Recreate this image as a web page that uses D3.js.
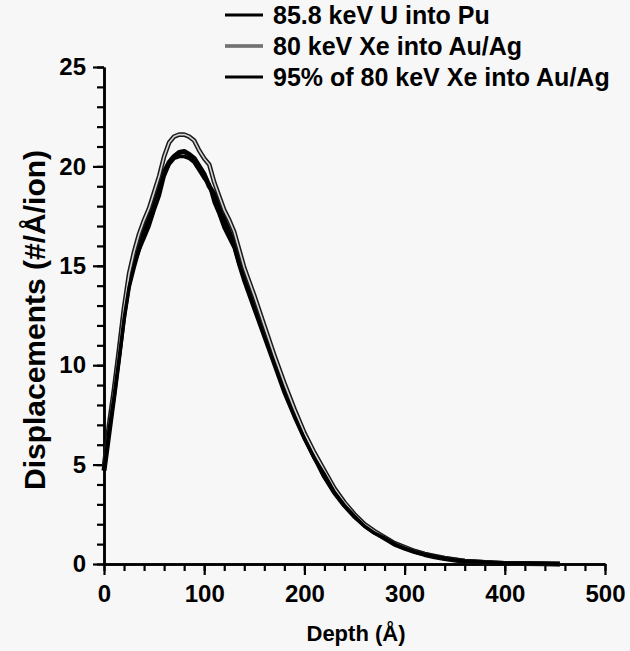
<!DOCTYPE html>
<html>
<head>
<meta charset="utf-8">
<script src="https://cdn.jsdelivr.net/npm/d3@7"></script>
<style>
  html, body { margin: 0; padding: 0; background: #f7f7f7; }
  svg { display: block; font-family: "Liberation Sans", Arial, sans-serif; font-weight: bold; }
</style>
</head>
<body>
<svg id="chart" width="630" height="651"></svg>
<script>
// depth (Å) sample points
const depth = [0, 5, 10, 15, 20, 25, 30, 35, 40, 45, 50, 55, 60, 65, 70, 75, 80, 85, 90, 95,
  100, 105, 110, 115, 120, 125, 130, 135, 140, 145, 150, 160, 170, 180, 190, 200, 210, 220,
  230, 240, 250, 260, 270, 280, 290, 300, 310, 320, 330, 340, 350, 360, 380, 400, 420, 440, 455]

// 85.8 keV U into Pu
const uPu = [4.7, 6.6, 8.5, 10.5, 12.6, 14.2, 15.2, 15.9, 16.8, 17.6, 18.4, 19.1, 19.7, 20.2, 20.5, 20.7, 20.75, 20.6, 20.4, 20.0,
  19.6, 19.0, 18.6, 18.1, 17.3, 16.7, 16.1, 15.2, 14.5, 13.9, 13.3, 11.8, 10.3, 8.9, 7.6, 6.4, 5.4, 4.4,
  3.6, 2.95, 2.4, 1.95, 1.6, 1.3, 1.0, 0.8, 0.62, 0.48, 0.36, 0.27, 0.2, 0.14, 0.07, 0.03, 0.02, 0.01, 0]

// 80 keV Xe into Au/Ag
const xeAuAg = [4.9, 7.0, 8.8, 10.8, 12.9, 14.6, 15.7, 16.6, 17.3, 17.9, 18.7, 19.5, 20.5, 21.2, 21.5, 21.6, 21.6, 21.5, 21.3, 20.8,
  20.4, 20.1, 19.2, 18.5, 17.8, 17.3, 16.7, 15.8, 14.9, 14.2, 13.5, 12.0, 10.5, 9.1, 7.8, 6.6, 5.6, 4.7,
  3.8, 3.1, 2.5, 2.0, 1.65, 1.35, 1.05, 0.85, 0.65, 0.5, 0.4, 0.3, 0.22, 0.15, 0.08, 0.04, 0.02, 0.01, 0]

// 95% of 80 keV Xe into Au/Ag
const xe95 = [4.7, 6.7, 8.4, 10.3, 12.3, 13.9, 14.9, 15.8, 16.4, 17.0, 17.8, 18.5, 19.5, 20.1, 20.4, 20.5, 20.5, 20.4, 20.2, 19.8,
  19.4, 19.1, 18.2, 17.6, 16.9, 16.4, 15.9, 15.0, 14.2, 13.5, 12.8, 11.4, 10.0, 8.6, 7.4, 6.3, 5.3, 4.5,
  3.6, 2.95, 2.4, 1.9, 1.55, 1.3, 1.0, 0.8, 0.62, 0.48, 0.38, 0.28, 0.2, 0.14, 0.08, 0.04, 0.02, 0.01, 0]

const seriesNames = ['85.8 keV U into Pu', '80 keV Xe into Au/Ag', '95% of 80 keV Xe into Au/Ag']
const xTicks = [0, 100, 200, 300, 400, 500]
const yTicks = [0, 5, 10, 15, 20, 25]

const svg = d3.select('#chart')
const x = d3.scaleLinear().domain([0, 500]).range([104, 605])
const y = d3.scaleLinear().domain([0, 25]).range([564, 67])

// styles per series: Xe curve is drawn hollow (dark outline, light core)
const styles = [
  [{stroke: '#000', width: 5}],
  [{stroke: '#1a1a1a', width: 4.6}, {stroke: '#d4d4d4', width: 1.6}],
  [{stroke: '#000', width: 3.6}]
]
const series = [uPu, xeAuAg, xe95]

const line = d3.line()
  .x((d, i) => x(depth[i]))
  .y(d => y(d))

// axes (minor ticks first, then major with labels)
const gx = svg.append('g').attr('transform', `translate(0,${y(0)})`)
gx.call(d3.axisBottom(x).tickValues(d3.range(0, 501, 20)).tickSize(7).tickSizeOuter(0).tickFormat(''))
gx.call(g => g.append('g').call(d3.axisBottom(x).tickValues(xTicks).tickSize(11).tickSizeOuter(0).tickPadding(10)))

const gy = svg.append('g').attr('transform', `translate(${x(0)},0)`)
gy.call(d3.axisLeft(y).tickValues(d3.range(0, 26, 1)).tickSize(7).tickSizeOuter(0).tickFormat(''))
gy.call(g => g.append('g').call(d3.axisLeft(y).tickValues(yTicks).tickSize(11).tickSizeOuter(0).tickPadding(7)))

svg.selectAll('.domain').attr('stroke', '#000').attr('stroke-width', 2.5)
svg.selectAll('.tick line').attr('stroke', '#000').attr('stroke-width', 2.2)
svg.selectAll('.tick text')
  .attr('fill', '#000')
  .style('font-size', '24px')
  .style('font-weight', 'bold')
  .style('font-family', '"Liberation Sans", Arial, sans-serif')

// curves
series.forEach((vals, i) => {
  styles[i].forEach(s => {
    svg.append('path')
      .datum(vals)
      .attr('d', line)
      .attr('fill', 'none')
      .attr('stroke', s.stroke)
      .attr('stroke-width', s.width)
      .attr('stroke-linejoin', 'round')
  })
})

// axis titles
svg.append('text')
  .attr('x', 356)
  .attr('y', 641)
  .attr('text-anchor', 'middle')
  .style('font-size', '22px')
  .text('Depth (Å)')

svg.append('text')
  .attr('transform', `translate(45,320) rotate(-90)`)
  .attr('text-anchor', 'middle')
  .style('font-size', '30px')
  .text('Displacements (#/Å/ion)')

// legend
const legend = svg.append('g')
seriesNames.forEach((name, i) => {
  const ly = 15 + i * 31
  styles[i].forEach(s => {
    legend.append('line')
      .attr('x1', 225).attr('x2', 263)
      .attr('y1', ly).attr('y2', ly)
      .attr('stroke', s.stroke)
      .attr('stroke-width', i === 1 ? s.width * 0.6 : 2.8)
  })
  legend.append('text')
    .attr('x', 273)
    .attr('y', ly)
    .attr('dy', '0.35em')
    .style('font-size', '25px')
    .text(name)
})
</script>
</body>
</html>
